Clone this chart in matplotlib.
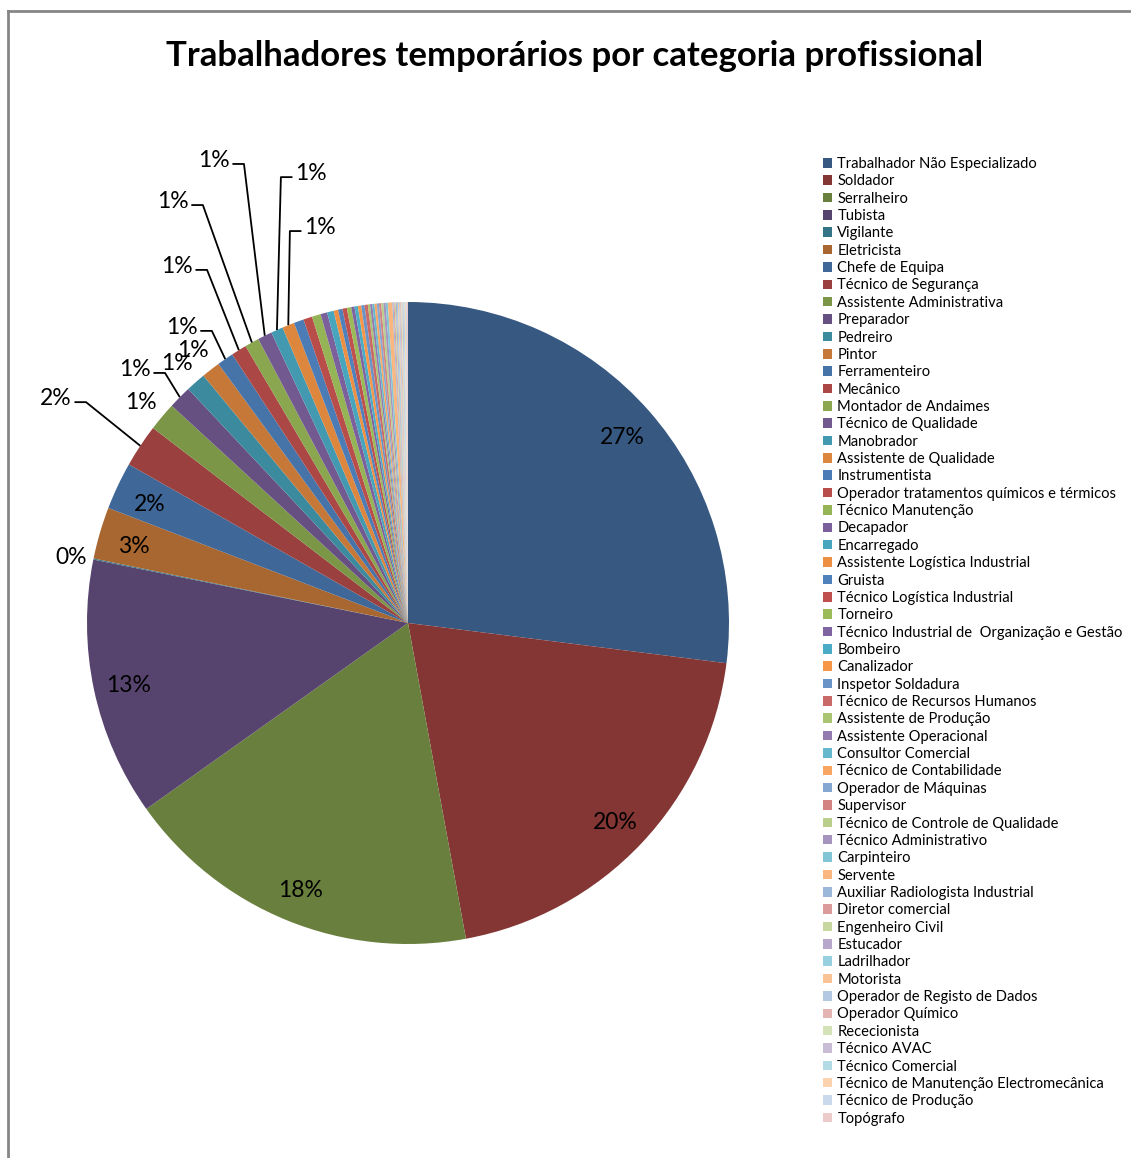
import matplotlib
matplotlib.use("Agg")
import matplotlib.pyplot as plt
from matplotlib.patches import Patch
from matplotlib.lines import Line2D
import numpy as np

# ---------------- data ----------------
title = "Trabalhadores temporários por categoria profissional"

categories = [
    "Trabalhador Não Especializado", "Soldador", "Serralheiro", "Tubista", "Vigilante",
    "Eletricista", "Chefe de Equipa", "Técnico de Segurança", "Assistente Administrativa",
    "Preparador", "Pedreiro", "Pintor", "Ferramenteiro", "Mecânico", "Montador de Andaimes",
    "Técnico de Qualidade", "Manobrador", "Assistente de Qualidade", "Instrumentista",
    "Operador tratamentos químicos e térmicos", "Técnico Manutenção", "Decapador",
    "Encarregado", "Assistente Logística Industrial", "Gruista", "Técnico Logística Industrial",
    "Torneiro", "Técnico Industrial de  Organização e Gestão", "Bombeiro", "Canalizador",
    "Inspetor Soldadura", "Técnico de Recursos Humanos", "Assistente de Produção",
    "Assistente Operacional", "Consultor Comercial", "Técnico de Contabilidade",
    "Operador de Máquinas", "Supervisor", "Técnico de Controle de Qualidade",
    "Técnico Administrativo", "Carpinteiro", "Servente", "Auxiliar Radiologista Industrial",
    "Diretor comercial", "Engenheiro Civil", "Estucador", "Ladrilhador", "Motorista",
    "Operador de Registo de Dados", "Operador Químico", "Rececionista", "Técnico AVAC",
    "Técnico Comercial", "Técnico de Manutenção Electromecânica", "Técnico de Produção",
    "Topógrafo",
]

counts = [
    486, 362, 325, 234, 1,
    47, 43, 39, 26,
    21, 18, 17, 15, 14, 13,
    13, 11, 11, 9,
    8, 8, 6,
    6, 4, 4, 4,
    4, 3, 3, 3,
    3, 3, 2,
    2, 2, 2,
    2, 2, 2,
    2, 2, 4, 1,
    1, 1, 1, 1, 1,
    1, 1, 1, 1,
    1, 1, 1,
    1,
]

# ---------------- style ----------------
accents = ["#4F81BD", "#C0504D", "#9BBB59", "#8064A2", "#4BACC6", "#F79646"]
# (kind, amount) per group of six points: shade multiplies, tint blends to white
variations = [("s", 0.68), ("s", 0.80), ("s", 0.89), ("s", 0.96), ("s", 1.0),
              ("t", 0.15), ("t", 0.30), ("t", 0.43), ("t", 0.57), ("t", 0.70)]


def hex2rgb(h):
    h = h.lstrip("#")
    return np.array([int(h[i:i + 2], 16) for i in (0, 2, 4)]) / 255.0


colors = []
for i in range(len(categories)):
    base = hex2rgb(accents[i % 6])
    kind, amt = variations[i // 6]
    if kind == "s":
        c = base * amt
    else:
        c = base + (1 - base) * amt
    colors.append(tuple(np.clip(c, 0, 1)))

FONT = ["Lato", "DejaVu Sans"]
plt.rcParams["font.family"] = FONT

W, H = 1131, 1158
CX, CY, R = 408, 623, 321  # pie centre / radius in pixels

fig = plt.figure(figsize=(W / 100, H / 100), dpi=100)
ax = fig.add_axes([0, 0, 1, 1])

wedges, _ = ax.pie(counts, colors=colors, startangle=90, counterclock=False,
                   radius=1, center=(0, 0), wedgeprops=dict(linewidth=0))
ax.set_xlim(-CX / R, (W - CX) / R)
ax.set_ylim((CY - H) / R, CY / R)
ax.set_aspect("auto")
ax.axis("off")

total = sum(counts)
pct_labels = [f"{int(np.floor(c / total * 100 + 0.5))}%" for c in counts]

inside_idx = [0, 1, 2, 3, 5, 6]
plain_outside = {4: 1.07, 8: 1.085, 10: 1.09, 11: 1.09}
# elbow point (pie units) and side on which text sits
leader_layout = {
    7: (-1.003, 0.688, "left"),
    9: (-0.757, 0.779, "left"),
    12: (-0.611, 0.910, "left"),
    13: (-0.626, 1.100, "left"),
    14: (-0.639, 1.302, "left"),
    15: (-0.511, 1.430, "left"),
    16: (-0.396, 1.389, "right"),
    17: (-0.368, 1.221, "right"),
}
LFS = 16.5
DY = -0.01


def mid(i):
    w = wedges[i]
    return np.deg2rad((w.theta1 + w.theta2) / 2)


for i in inside_idx:
    a = mid(i)
    ax.text(0.89 * np.cos(a), 0.89 * np.sin(a) + DY, pct_labels[i], ha="center",
            va="center", fontsize=LFS, color="black")

for i, d in plain_outside.items():
    a = mid(i)
    ax.text(d * np.cos(a), d * np.sin(a) + DY, pct_labels[i], ha="center", va="center",
            fontsize=LFS, color="black")

seg = 0.036
for i, (ex, ey, side) in leader_layout.items():
    a = mid(i)
    rx, ry = np.cos(a), np.sin(a)
    if side == "left":
        sx = ex - seg
        ax.text(sx - 0.008, ey + 0.012, pct_labels[i], ha="right", va="center",
                fontsize=LFS, color="black")
    else:
        sx = ex + seg
        ax.text(sx + 0.008, ey + 0.012, pct_labels[i], ha="left", va="center",
                fontsize=LFS, color="black")
    ax.plot([sx, ex, rx], [ey, ey, ry], color="black", lw=1.3, solid_capstyle="butt")

# legend
handles = [Patch(facecolor=c, edgecolor="none") for c in colors]
leg = ax.legend(handles, categories, loc="upper left",
                bbox_to_anchor=(823 / W, 1 - 157 / H), bbox_transform=fig.transFigure,
                frameon=False, fontsize=10.6, handlelength=0.62, handleheight=0.62,
                handletextpad=0.35, labelspacing=0.228, borderpad=0, borderaxespad=0)

fig.text(575 / W, 1 - 56 / H, title, ha="center", va="center", fontsize=25,
         fontweight="bold", color="black")

# chart frame
fig.add_artist(Line2D([7.5 / W, 7.5 / W], [0, 1 - 11 / H], transform=fig.transFigure,
                      color="#868686", lw=2))
fig.add_artist(Line2D([7.5 / W, 1], [1 - 11 / H, 1 - 11 / H], transform=fig.transFigure,
                      color="#868686", lw=2))

fig.savefig("out.png", dpi=100, facecolor="white")
